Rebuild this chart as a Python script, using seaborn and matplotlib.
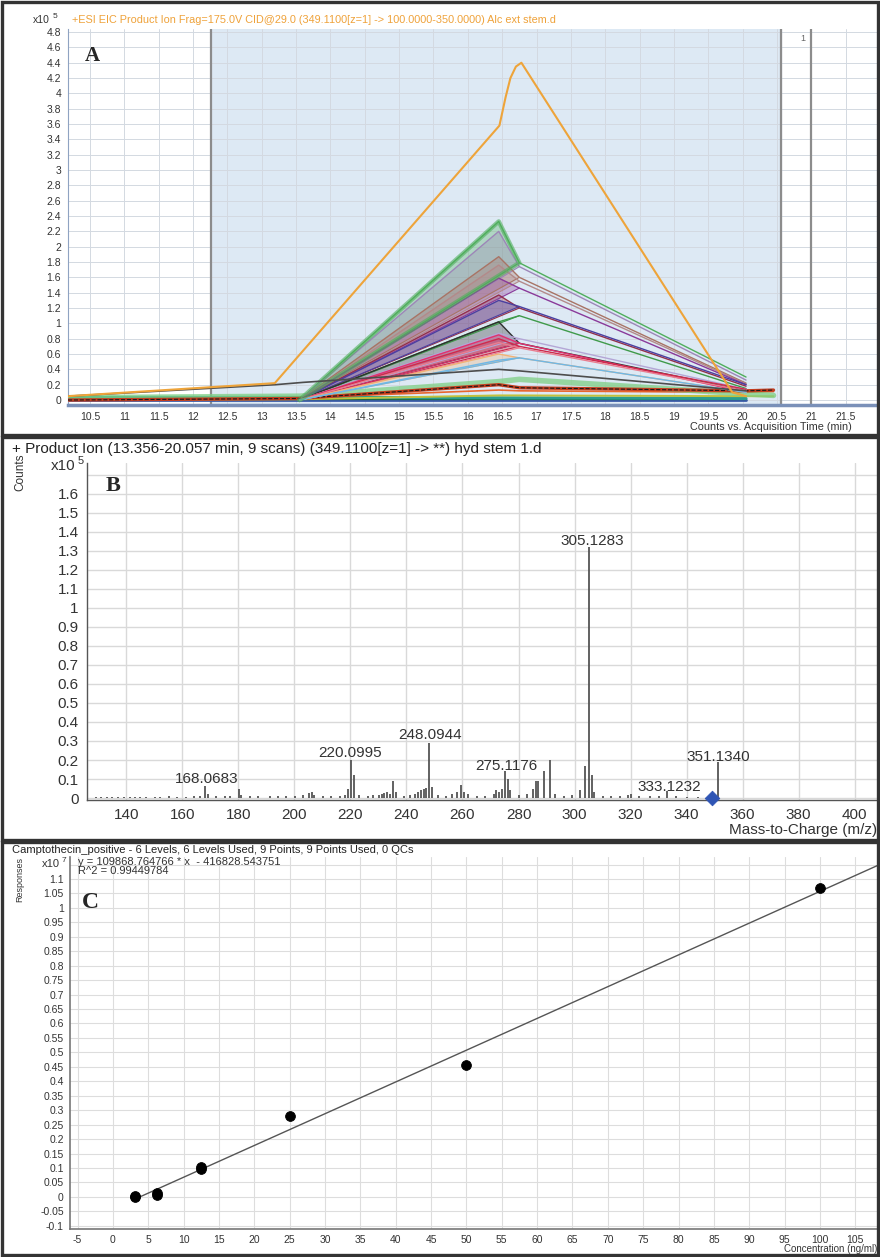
import numpy as np
import matplotlib
matplotlib.use("Agg")
import matplotlib.pyplot as plt
from matplotlib.patches import Rectangle
import seaborn as sns

# ---------------- data ----------------
# Panel A: extracted ion chromatograms (counts x10^5 vs. time, min)
orange_t = [10.18, 13.19, 16.46, 16.55, 16.62, 16.70, 16.78, 19.85, 20.05]
orange_y = [0.05, 0.22, 3.58, 3.95, 4.20, 4.35, 4.40, 0.10, 0.05]

gray_t = [10.18, 13.20, 13.60, 16.45, 16.75, 20.05]
gray_y = [0.05, 0.20, 0.23, 0.40, 0.38, 0.12]

fan_t = [13.55, 16.45, 16.75, 20.05]
fan_peak = [2.33, 2.20, 1.87, 1.76, 1.59, 1.37, 1.30, 1.02, 1.02, 0.87, 0.85, 0.80, 0.75, 0.60, 0.52]
fan_shoulder = [1.79, 1.74, 1.60, 1.55, 1.46, 1.20, 1.22, 1.10, 0.74, 0.80, 0.74, 0.70, 0.68, 0.55, 0.55]
fan_end = [0.30, 0.26, 0.22, 0.21, 0.20, 0.18, 0.20, 0.15, 0.12, 0.14, 0.10, 0.14, 0.12, 0.10, 0.10]
fan_colors = ['#4fae5c', '#9d86b8', '#a87465', '#b38a8a', '#8a3a9a', '#93304a',
              '#4a3fa0', '#3f9a4a', '#2f2f2f', '#b4a6d6', '#e2306f', '#cf2a4c',
              '#ea7d8f', '#f2b275', '#6fb8e6']

low_t = [10.18, 13.55, 16.45, 16.75, 20.05, 20.45]
green_band_y = [0.03, 0.05, 0.24, 0.27, 0.08, 0.06]
red_band_y = [0.00, 0.02, 0.20, 0.16, 0.12, 0.13]
orange_red_y = [0.00, 0.03, 0.13, 0.12, 0.10, 0.11]
olive_y = [0.00, 0.01, 0.06, 0.06, 0.05, 0.05]
flat_t = [10.18, 13.55, 20.05]
teal_y = [0.035, 0.035, 0.02]
dkgreen_y = [0.008, 0.008, 0.008]
blue_y = [0.0, 0.0, 0.0]

shade_start, shade_end, marker_time = 12.26, 20.565, 21.0

# Panel B: product ion spectrum (counts x10^5 vs. m/z)
mz = [129.1, 131.0, 133.1, 135.0, 137.1, 139.0, 141.1, 143.1, 145.0, 147.1, 150.1,
      152.0, 155.1, 158.0, 161.1, 164.1, 166.1, 168.07, 169.07, 172.1, 175.1, 177.1,
      180.07, 181.07, 184.1, 187.1, 191.1, 194.1, 197.1, 200.1, 203.1, 205.1, 206.1,
      207.1, 210.1, 213.1, 216.1, 218.1, 219.1, 220.10, 221.1, 223.1, 226.1, 228.1,
      230.1, 231.1, 232.1, 233.1, 234.1, 235.1, 236.1, 239.1, 241.1, 243.1, 244.1,
      245.1, 246.1, 247.1, 248.09, 249.1, 251.1, 254.1, 256.1, 258.1, 259.4, 260.6,
      262.1, 265.1, 268.1, 271.1, 272.1, 273.1, 274.1, 275.12, 276.1, 277.1, 280.1,
      283.1, 285.1, 286.1, 287.1, 289.1, 291.1, 293.1, 296.1, 299.1, 302.1, 303.6,
      305.13, 306.1, 307.1, 310.1, 313.1, 316.1, 319.1, 320.1, 323.1, 327.1, 330.1,
      333.12, 336.1, 340.1, 344.1, 349.11, 351.13]
counts = [0.006, 0.004, 0.007, 0.005, 0.006, 0.004, 0.006, 0.005, 0.007, 0.004, 0.006,
          0.005, 0.008, 0.006, 0.007, 0.009, 0.012, 0.065, 0.020, 0.010, 0.008, 0.012,
          0.050, 0.018, 0.010, 0.008, 0.010, 0.008, 0.012, 0.010, 0.018, 0.025, 0.030,
          0.015, 0.010, 0.012, 0.010, 0.018, 0.050, 0.200, 0.120, 0.015, 0.010, 0.014,
          0.018, 0.020, 0.025, 0.030, 0.022, 0.090, 0.030, 0.012, 0.015, 0.020, 0.030,
          0.040, 0.045, 0.055, 0.290, 0.060, 0.015, 0.012, 0.020, 0.030, 0.070, 0.030,
          0.020, 0.010, 0.012, 0.020, 0.040, 0.030, 0.050, 0.140, 0.100, 0.040, 0.015,
          0.020, 0.050, 0.090, 0.090, 0.140, 0.200, 0.020, 0.012, 0.015, 0.040, 0.170,
          1.320, 0.120, 0.030, 0.012, 0.010, 0.008, 0.015, 0.020, 0.008, 0.010, 0.008,
          0.035, 0.008, 0.006, 0.005, 0.012, 0.190]
label_mz = [168.0683, 220.0995, 248.0944, 275.1176, 305.1283, 333.1232, 351.1340]
label_x = [168.5, 220.0, 248.3, 275.6, 306.2, 333.7, 351.2]
label_y = [0.100, 0.235, 0.330, 0.170, 1.355, 0.060, 0.215]
precursor_mz = 349.11

# Panel C: calibration curve (response x10^7 vs. concentration, ng/ml)
conc = [3.125, 3.125, 6.25, 6.25, 12.5, 12.5, 25.0, 50.0, 100.0]
resp = [0.000, 0.002, 0.008, 0.012, 0.095, 0.105, 0.280, 0.455, 1.070]
slope = 109868.764766
intercept = -416828.543751
r_squared = 0.99449784

# ---------------- figure ----------------
sns.set_style("white")
plt.rcParams["font.family"] = ["Liberation Sans", "DejaVu Sans"]

W, H = 880, 1257
fig = plt.figure(figsize=(W / 100, H / 100), dpi=100)


def rect(x0, y0, x1, y1):
    return [x0 / W, 1 - y1 / H, (x1 - x0) / W, (y1 - y0) / H]


def ftext(x, y, s, **kw):
    kw.setdefault("va", "center")
    return fig.text(x / W, 1 - y / H, s, **kw)


def fmt(v):
    v = round(float(v), 3)
    if abs(v) < 1e-9:
        v = 0.0
    return f"{v:g}"


# panel frames
for (x0, y0, x1, y1) in [(2, 2, 878, 435), (2, 437, 878, 840), (2, 842, 878, 1255)]:
    fig.patches.append(Rectangle((x0 / W, 1 - y1 / H), (x1 - x0) / W, (y1 - y0) / H,
                                 transform=fig.transFigure, fill=False,
                                 edgecolor="#333333", lw=2.4, zorder=10))

# ---------- Panel A ----------
axA = fig.add_axes(rect(68, 29, 880, 405))
axA.set_xlim(10.18, 22.0)
axA.set_ylim(-0.065, 4.84)
axA.axvspan(shade_start, shade_end, color="#dde9f4", zorder=0)
xa = np.arange(10.5, 21.51, 0.5)
axA.set_xticks(xa)
axA.set_xticklabels([fmt(v) for v in xa])
axA.set_yticks(np.arange(0, 4.81, 0.2))
axA.set_yticklabels([fmt(v) for v in np.arange(0, 4.81, 0.2)])
axA.grid(True, color="#d3d9e1", lw=0.7, zorder=0.5)
axA.set_axisbelow(True)
axA.tick_params(axis="both", labelsize=7.5, colors="#333333", length=3, width=0.8,
                direction="out", pad=2)
for v in (shade_start, shade_end, marker_time):
    axA.axvline(v, color="#8c8c8c", lw=1.6, zorder=1)
axA.text(marker_time - 0.08, 4.72, "1", fontsize=6.5, color="#666666", ha="right", va="center")

for sp in ("top", "right"):
    axA.spines[sp].set_visible(False)
axA.spines["left"].set_color("#8fa3c2")
axA.spines["bottom"].set_color("#7a90b8")
axA.spines["bottom"].set_linewidth(2.5)

# near-baseline traces
sns.lineplot(x=flat_t, y=blue_y, ax=axA, color="#3a5aa8", lw=2.0, sort=False, zorder=2)
sns.lineplot(x=flat_t, y=dkgreen_y, ax=axA, color="#1d6b3c", lw=1.6, sort=False, zorder=2)
sns.lineplot(x=flat_t, y=teal_y, ax=axA, color="#2a9d8f", lw=2.2, sort=False, zorder=2)
sns.lineplot(x=low_t, y=olive_y, ax=axA, color="#c2c23c", lw=1.4, sort=False, zorder=3)
sns.lineplot(x=low_t, y=orange_red_y, ax=axA, color="#e8662e", lw=1.2, sort=False, zorder=3)
sns.lineplot(x=low_t, y=green_band_y, ax=axA, color="#7fcf84", lw=4.0, alpha=0.75,
             sort=False, zorder=3)
sns.lineplot(x=low_t, y=red_band_y, ax=axA, color="#c33d1f", lw=2.4, sort=False, zorder=3)
sns.lineplot(x=low_t, y=red_band_y, ax=axA, color="#1a1a1a", lw=0.8, ls="--",
             sort=False, zorder=3)

# fan-shaped integrated peaks
for p, s, e, c in zip(fan_peak, fan_shoulder, fan_end, fan_colors):
    poly_x = [fan_t[0], fan_t[1], fan_t[2], fan_t[0]]
    poly_y = [0.0, p, s, 0.0]
    axA.fill(poly_x, poly_y, color=c, alpha=0.32, lw=0, zorder=4)
    sns.lineplot(x=fan_t, y=[0.0, p, s, e], ax=axA, color=c, lw=1.0, sort=False, zorder=5)
    axA.plot([fan_t[0], fan_t[2]], [0.0, s], color=c, lw=0.8, zorder=5)
# heavier outline on the largest area
axA.plot(fan_t[:3] + [fan_t[0]], [0.0, fan_peak[0], fan_shoulder[0], 0.0],
         color=fan_colors[0], lw=3.2, alpha=0.6, zorder=5)

sns.lineplot(x=gray_t, y=gray_y, ax=axA, color="#4d4d4d", lw=1.2, sort=False, zorder=6)
sns.lineplot(x=orange_t, y=orange_y, ax=axA, color="#eea43a", lw=1.5, sort=False, zorder=7)

ftext(50, 20, "x10", fontsize=7.5, color="#333333", ha="right")
ftext(53, 17, "5", fontsize=6, color="#333333", ha="left")
ftext(72, 20, "+ESI EIC Product Ion Frag=175.0V CID@29.0 (349.1100[z=1] -> 100.0000-350.0000) Alc ext stem.d",
      fontsize=7.8, color="#efa23a", ha="left")
ftext(92, 56, "A", fontsize=15, fontweight="bold", family="Liberation Serif", ha="center")
ftext(852, 427, "Counts vs. Acquisition Time (min)", fontsize=7.8, color="#333333", ha="right")

# ---------- Panel B ----------
axB = fig.add_axes(rect(87, 463, 880, 800))
axB.set_xlim(125.9, 409.1)
axB.set_ylim(-0.0105, 1.763)
axB.set_xticks(np.arange(140, 401, 20))
axB.set_xticklabels([str(v) for v in range(140, 401, 20)])
yb = np.arange(0, 1.71, 0.1)
axB.set_yticks(yb)
axB.set_yticklabels([fmt(v) for v in yb[:-1]] + [""])
axB.grid(True, color="#d9d9d9", lw=1.0)
axB.set_axisbelow(True)
axB.tick_params(axis="both", labelsize=11, colors="#333333", length=4, width=0.9,
                direction="out", pad=2)
for sp in ("top", "right"):
    axB.spines[sp].set_visible(False)
for sp in ("left", "bottom"):
    axB.spines[sp].set_color("#555555")
    axB.spines[sp].set_linewidth(1.0)

axB.vlines(mz, 0, counts, color="#555555", lw=1.3, zorder=3)
for xl, yl, m in zip(label_x, label_y, label_mz):
    axB.text(xl, yl, f"{m:.4f}", fontsize=11, color="#333333", ha="center", va="center",
             zorder=4)
sns.scatterplot(x=[precursor_mz], y=[0.0], ax=axB, marker="D", s=55, color="#2f55b5",
                edgecolor="#2f55b5", zorder=5, clip_on=False)

ftext(12, 449, "+ Product Ion (13.356-20.057 min, 9 scans) (349.1100[z=1] -> **) hyd stem 1.d",
      fontsize=11, color="#222222", ha="left")
ftext(20, 472, "Counts", fontsize=8.5, color="#333333", rotation=90, ha="center")
ftext(75, 466, "x10", fontsize=11, color="#333333", ha="right")
ftext(78, 461, "5", fontsize=8, color="#333333", ha="left")
ftext(113, 486, "B", fontsize=16, fontweight="bold", family="Liberation Serif", ha="center")
ftext(877, 830, "Mass-to-Charge (m/z)", fontsize=11, color="#333333", ha="right")

# ---------- Panel C ----------
axC = fig.add_axes(rect(70, 857, 880, 1229))
axC.set_xlim(-6.08, 108.5)
axC.set_ylim(-0.111, 1.176)
xc = np.arange(-5, 106, 5)
axC.set_xticks(xc)
axC.set_xticklabels([str(v) for v in xc])
yc = np.arange(-0.1, 1.151, 0.05)
axC.set_yticks(yc)
axC.set_yticklabels([fmt(v) for v in yc[:-1]] + [""])
axC.grid(True, color="#dddddd", lw=0.8)
axC.set_axisbelow(True)
axC.tick_params(axis="both", labelsize=7.5, colors="#333333", length=3, width=0.8,
                direction="out", pad=1.5)
for sp in ("top", "right"):
    axC.spines[sp].set_visible(False)
for sp in ("left", "bottom"):
    axC.spines[sp].set_color("#777777")
    axC.spines[sp].set_linewidth(1.2)

fit_x = np.array([conc[0], 112.0])
fit_y = (slope * fit_x + intercept) / 1e7
sns.lineplot(x=fit_x, y=fit_y, ax=axC, color="#555555", lw=1.0, zorder=3)
sns.scatterplot(x=conc, y=resp, ax=axC, color="black", s=50, edgecolor="black",
                zorder=4, clip_on=False)

ftext(12, 850, "Camptothecin_positive - 6 Levels, 6 Levels Used, 9 Points, 9 Points Used, 0 QCs",
      fontsize=8, color="#222222", ha="left")
ftext(20, 880, "Responses", fontsize=6.5, color="#333333", rotation=90, ha="center")
ftext(60, 864, "x10", fontsize=8, color="#333333", ha="right")
ftext(62, 860, "7", fontsize=6, color="#333333", ha="left")
ftext(78, 862, f"y = {slope:.6f} * x  - {abs(intercept):.6f}", fontsize=8,
      color="#333333", ha="left")
ftext(78, 871, f"R^2 = {r_squared:.8f}", fontsize=8, color="#333333", ha="left")
ftext(90, 903, "C", fontsize=17, fontweight="bold", family="Liberation Serif", ha="center")
ftext(877, 1249, "Concentration (ng/ml)", fontsize=7, color="#333333", ha="right")

fig.savefig("out.png", dpi=100)
